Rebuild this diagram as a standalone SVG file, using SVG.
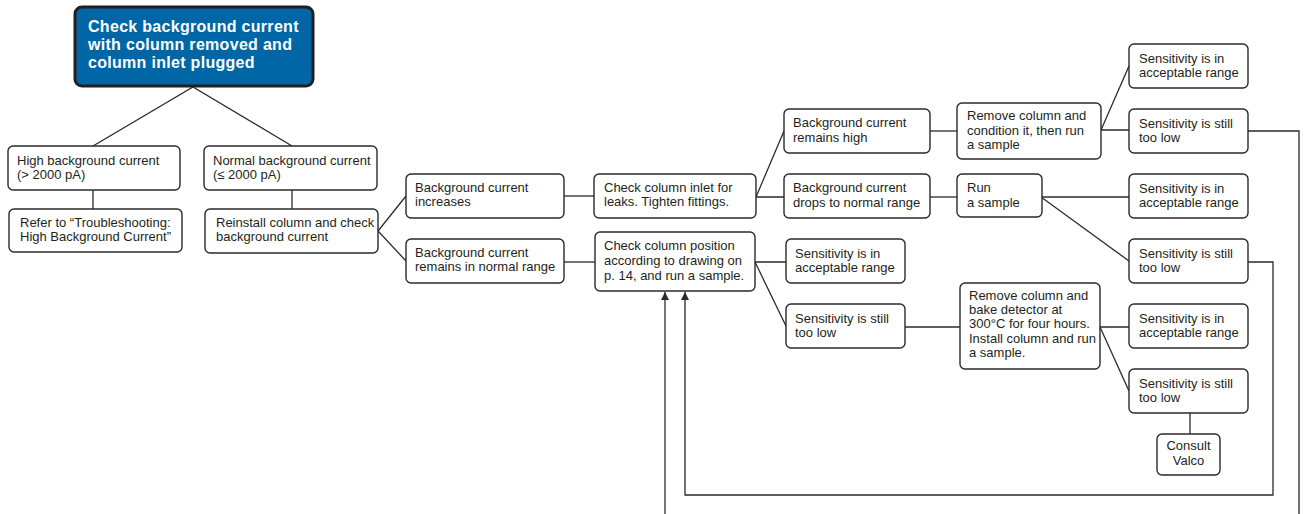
<svg xmlns="http://www.w3.org/2000/svg" width="1308" height="514" viewBox="0 0 1308 514">
<defs>
<style>
.b{fill:#fff;stroke:#2a2a2a;stroke-width:1.4}
.t{font-family:"Liberation Sans",Arial,sans-serif;font-size:13px;fill:#231f20}
.c{fill:none;stroke:#2a2a2a;stroke-width:1.3}
.h{font-family:"Liberation Sans",Arial,sans-serif;font-size:16px;font-weight:bold;letter-spacing:0.3px;fill:#fff}
</style>
<marker id="ar" viewBox="0 0 8 10" refX="8" refY="5" markerWidth="8" markerHeight="10" markerUnits="userSpaceOnUse" orient="auto">
<path d="M0,1 L8,5 L0,9 Z" fill="#2a2a2a"/>
</marker>
</defs>
<rect width="1308" height="514" fill="#fff"/>
<g id="connectors">
<polyline class="c" points="93,146 193,87 292,146"/>
<line class="c" x1="93" y1="190" x2="93" y2="209"/>
<line class="c" x1="292" y1="190" x2="292" y2="209"/>
<polyline class="c" points="406,196 378,231 406,261"/>
<line class="c" x1="564" y1="196" x2="594" y2="196"/>
<line class="c" x1="564" y1="262" x2="595" y2="262"/>
<polyline class="c" points="784,131 756,197 784,197"/>
<line class="c" x1="930" y1="131" x2="957" y2="131"/>
<line class="c" x1="930" y1="197" x2="957" y2="197"/>
<polyline class="c" points="1129,66 1101,130 1129,130"/>
<line class="c" x1="1041" y1="197" x2="1129" y2="197"/>
<line class="c" x1="1041" y1="197" x2="1129" y2="261"/>
<polyline class="c" points="786,262 755,262 786,326"/>
<line class="c" x1="905" y1="327" x2="960" y2="327"/>
<polyline class="c" points="1129,327 1100,327 1129,391"/>
<line class="c" x1="1190" y1="413" x2="1190" y2="434"/>
<polyline class="c" points="1248,131 1299,131 1299,514"/>
<line class="c" x1="665" y1="514" x2="665" y2="292" marker-end="url(#ar)"/>
<polyline class="c" points="1248,262 1273,262 1273,495 685,495 685,292" marker-end="url(#ar)"/>
</g>
<g id="n0">
<rect x="75" y="7" width="238" height="79" rx="7" fill="#0066a6" stroke="#231f20" stroke-width="3"/>
<text class="h" x="88" y="32">Check background current</text>
<text class="h" x="88" y="50">with column removed and</text>
<text class="h" x="88" y="68">column inlet plugged</text>
</g>
<g id="n1">
<rect class="b" x="8" y="146" width="172" height="44" rx="5"/>
<text class="t" x="17" y="165">High background current</text>
<text class="t" x="17" y="179">(&gt; 2000 pA)</text>
</g>
<g id="n2">
<rect class="b" x="9" y="209" width="173" height="43" rx="5"/>
<text class="t" x="20" y="227">Refer to “Troubleshooting:</text>
<text class="t" x="20" y="241">High Background Current”</text>
</g>
<g id="n3">
<rect class="b" x="204" y="146" width="173" height="44" rx="5"/>
<text class="t" x="213" y="165">Normal background current</text>
<text class="t" x="213" y="179">(≤ 2000 pA)</text>
</g>
<g id="n4">
<rect class="b" x="205" y="209" width="173" height="44" rx="5"/>
<text class="t" x="216" y="227">Reinstall column and check</text>
<text class="t" x="216" y="241">background current</text>
</g>
<g id="n5">
<rect class="b" x="406" y="174" width="158" height="44" rx="5"/>
<text class="t" x="415" y="192">Background current</text>
<text class="t" x="415" y="206">increases</text>
</g>
<g id="n6">
<rect class="b" x="406" y="239" width="158" height="44" rx="5"/>
<text class="t" x="415" y="257">Background current</text>
<text class="t" x="415" y="271">remains in normal range</text>
</g>
<g id="n7">
<rect class="b" x="594" y="174" width="162" height="44" rx="5"/>
<text class="t" x="604" y="192">Check column inlet for</text>
<text class="t" x="604" y="206">leaks. Tighten fittings.</text>
</g>
<g id="n8">
<rect class="b" x="595" y="232" width="160" height="59" rx="5"/>
<text class="t" x="604" y="250">Check column position</text>
<text class="t" x="604" y="265">according to drawing on</text>
<text class="t" x="604" y="280">p. 14, and run a sample.</text>
</g>
<g id="n9">
<rect class="b" x="784" y="109" width="146" height="44" rx="5"/>
<text class="t" x="793" y="127">Background current</text>
<text class="t" x="793" y="142">remains high</text>
</g>
<g id="n10">
<rect class="b" x="784" y="174" width="146" height="44" rx="5"/>
<text class="t" x="793" y="192">Background current</text>
<text class="t" x="793" y="207">drops to normal range</text>
</g>
<g id="n11">
<rect class="b" x="957" y="103" width="144" height="56" rx="5"/>
<text class="t" x="967" y="120">Remove column and</text>
<text class="t" x="967" y="135">condition it, then run</text>
<text class="t" x="967" y="149">a sample</text>
</g>
<g id="n12">
<rect class="b" x="957" y="174" width="85" height="43" rx="5"/>
<text class="t" x="967" y="192">Run</text>
<text class="t" x="967" y="207">a sample</text>
</g>
<g id="n13">
<rect class="b" x="1129" y="44" width="119" height="44" rx="5"/>
<text class="t" x="1139" y="63">Sensitivity is in</text>
<text class="t" x="1139" y="77">acceptable range</text>
</g>
<g id="n14">
<rect class="b" x="1129" y="109" width="119" height="44" rx="5"/>
<text class="t" x="1139" y="128">Sensitivity is still</text>
<text class="t" x="1139" y="142">too low</text>
</g>
<g id="n15">
<rect class="b" x="1129" y="174" width="119" height="44" rx="5"/>
<text class="t" x="1139" y="193">Sensitivity is in</text>
<text class="t" x="1139" y="207">acceptable range</text>
</g>
<g id="n16">
<rect class="b" x="1129" y="239" width="119" height="44" rx="5"/>
<text class="t" x="1139" y="258">Sensitivity is still</text>
<text class="t" x="1139" y="272">too low</text>
</g>
<g id="n17">
<rect class="b" x="786" y="239" width="119" height="44" rx="5"/>
<text class="t" x="795" y="258">Sensitivity is in</text>
<text class="t" x="795" y="272">acceptable range</text>
</g>
<g id="n18">
<rect class="b" x="786" y="304" width="119" height="44" rx="5"/>
<text class="t" x="795" y="323">Sensitivity is still</text>
<text class="t" x="795" y="337">too low</text>
</g>
<g id="n19">
<rect class="b" x="960" y="283" width="140" height="86" rx="5"/>
<text class="t" x="969" y="300">Remove column and</text>
<text class="t" x="969" y="314">bake detector at</text>
<text class="t" x="969" y="328">300°C for four hours.</text>
<text class="t" x="969" y="343" textLength="127" lengthAdjust="spacingAndGlyphs">Install column and run</text>
<text class="t" x="969" y="357">a sample.</text>
</g>
<g id="n20">
<rect class="b" x="1129" y="304" width="119" height="44" rx="5"/>
<text class="t" x="1139" y="323">Sensitivity is in</text>
<text class="t" x="1139" y="337">acceptable range</text>
</g>
<g id="n21">
<rect class="b" x="1129" y="369" width="119" height="44" rx="5"/>
<text class="t" x="1139" y="388">Sensitivity is still</text>
<text class="t" x="1139" y="402">too low</text>
</g>
<g id="n22">
<rect class="b" x="1157" y="434" width="63" height="41" rx="5"/>
<text class="t" x="1188.5" y="450" text-anchor="middle">Consult</text>
<text class="t" x="1188.5" y="465" text-anchor="middle">Valco</text>
</g>
</svg>
